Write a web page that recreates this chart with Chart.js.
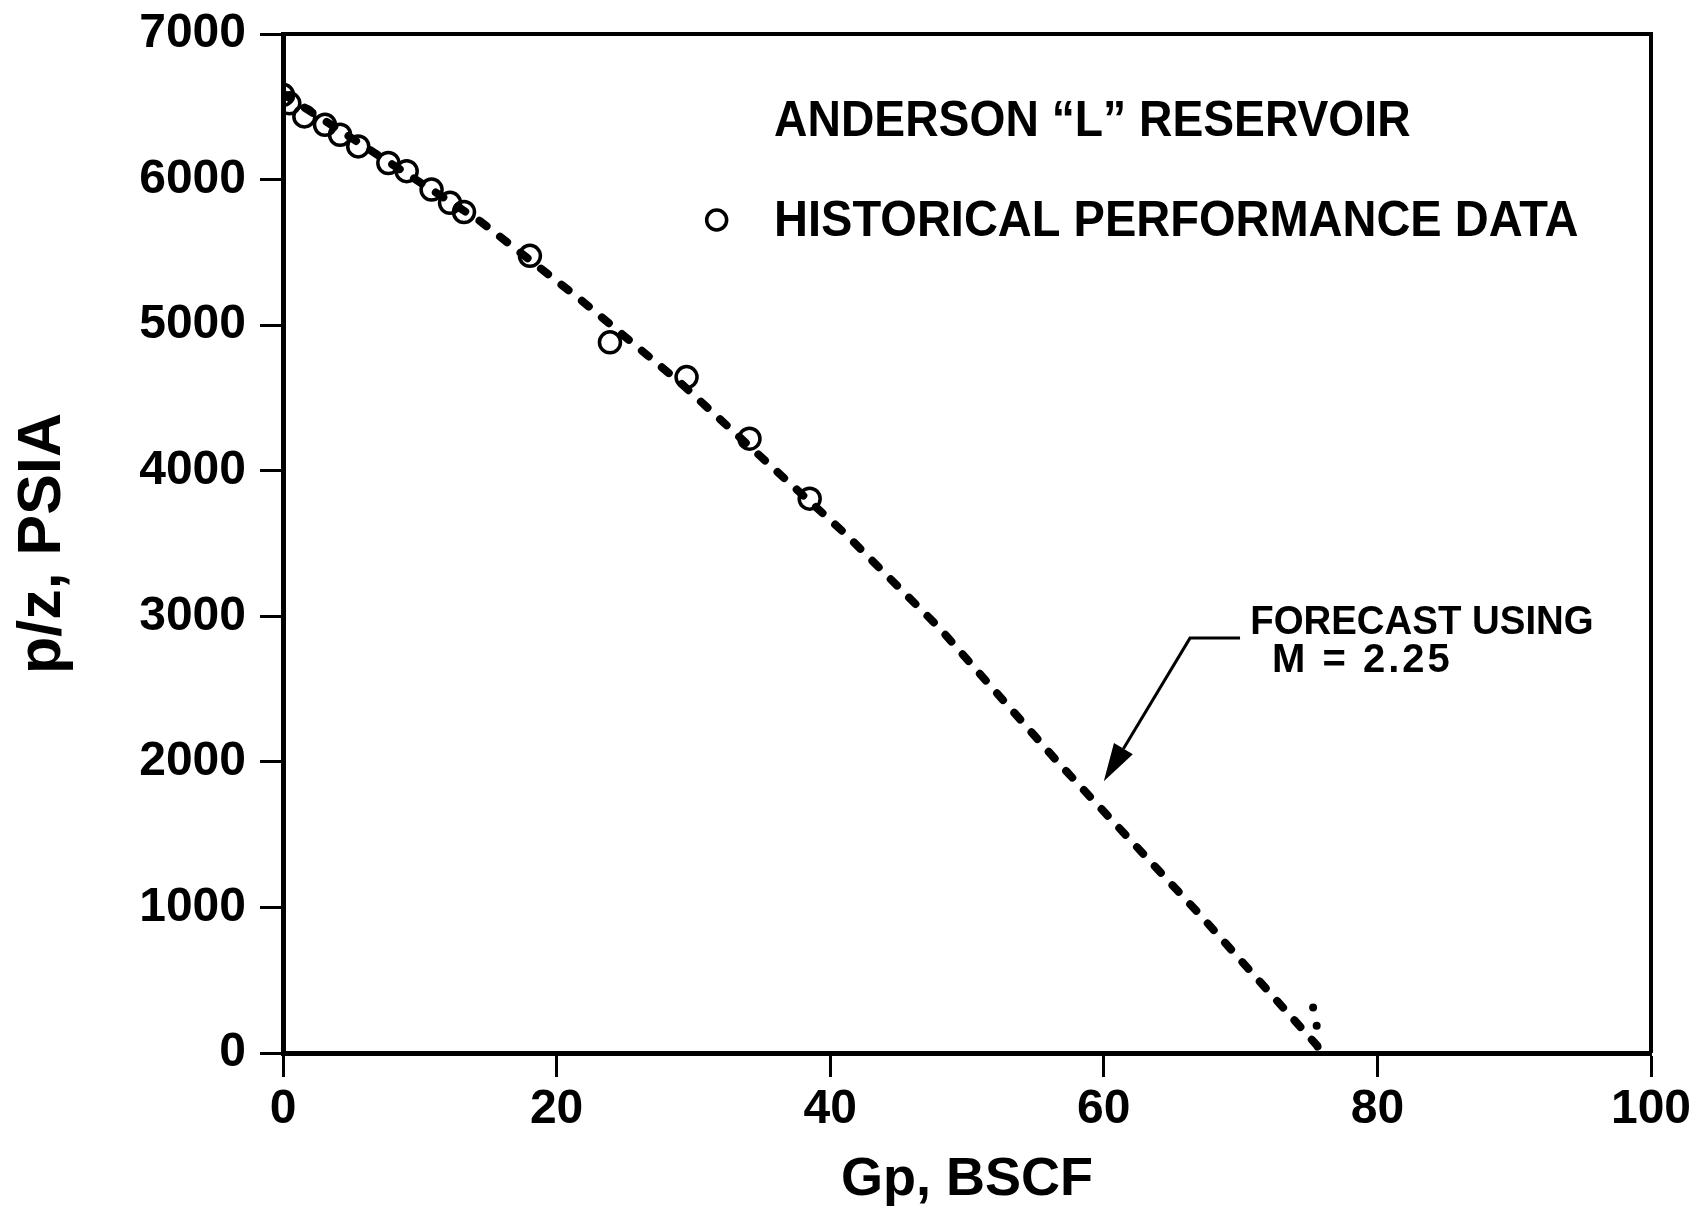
<!DOCTYPE html>
<html>
<head>
<meta charset="utf-8">
<script src="https://cdn.jsdelivr.net/npm/chart.js@4.4.1/dist/chart.umd.min.js"></script>
<style>
html, body { margin: 0; padding: 0; background: #fff; }
</style>
</head>
<body>
<canvas id="mycanvas" width="1700" height="1214"></canvas>
<script>
// historical p/z data
var gp = [0, 0.46, 1.56, 3.07, 4.17, 5.5, 7.7, 9.04, 10.86, 12.21, 13.23, 18.05, 23.9, 29.5, 34.1, 38.5];
var pz = [6582, 6524, 6434, 6376, 6308, 6228, 6114, 6058, 5931, 5840, 5777, 5476, 4882, 4643, 4220, 3808];

// forecast curve (M = 2.25), traced along the dashes
var forecastGp = [0, 14.4, 21.7, 29.0, 36.8, 41.2, 48.0, 56.7, 67.0, 75.6, 75.8];
var forecastPz = [6590, 5715, 5179, 4608, 3935, 3558, 2918, 1992, 953, 50, 0];

// little hand-drawn dots at the end of the forecast
var tailGp = [75.3, 75.56];
var tailPz = [313, 188];

var xTicks = [0, 20, 40, 60, 80, 100];
var yTicks = [0, 1000, 2000, 3000, 4000, 5000, 6000, 7000];

var FONT = '"Liberation Sans", Arial, sans-serif';

function pts(xs, ys) {
	var out = [];
	for (var i in xs) {
		out.push({x: xs[i], y: ys[i]});
	}
	return out;
}

var frame = {
	id: 'frame',
	afterDraw: function(chart) {
		var a = chart.chartArea;
		var c = chart.ctx;
		c.save();
		c.strokeStyle = '#000';
		c.lineWidth = 4;
		c.beginPath();
		c.moveTo(a.left, a.top);
		c.lineTo(a.right, a.top);
		c.lineTo(a.right, a.bottom);
		c.stroke();
		c.restore();
	}
};

function squeezedText(c, txt, x, y, sx) {
	c.save();
	c.translate(x, y);
	c.scale(sx, 1);
	c.fillText(txt, 0, 0);
	c.restore();
}

var notes = {
	id: 'notes',
	afterDatasetsDraw: function(chart) {
		var c = chart.ctx;
		var sx = chart.scales.x, sy = chart.scales.y;
		function X(v) { return sx.getPixelForValue(v); }
		function Y(v) { return sy.getPixelForValue(v); }
		c.save();
		c.fillStyle = '#000';
		c.strokeStyle = '#000';
		c.textBaseline = 'alphabetic';
		c.textAlign = 'left';

		c.font = 'bold 50px ' + FONT;
		squeezedText(c, 'ANDERSON \u201CL\u201D RESERVOIR', X(35.9), Y(6300), 0.925);
		squeezedText(c, 'HISTORICAL PERFORMANCE DATA', X(35.9), Y(5610), 0.94);

		// legend marker
		c.lineWidth = 3.5;
		c.beginPath();
		c.arc(X(31.7), Y(5722), 10, 0, Math.PI * 2);
		c.stroke();

		c.font = 'bold 40px ' + FONT;
		squeezedText(c, 'FORECAST USING', X(70.7), Y(2880), 0.96);
		c.letterSpacing = '3px';
		squeezedText(c, 'M = 2.25', X(72.3), Y(2619), 1.0);
		c.letterSpacing = '0px';

		// leader + arrow
		var ex = X(66.3), ey = Y(2850);
		var tx = X(60.0), ty = Y(1867);
		var dx = tx - ex, dy = ty - ey;
		var len = Math.sqrt(dx * dx + dy * dy);
		var ux = dx / len, uy = dy / len;
		var hl = 38, hw = 11;
		var bx = tx - ux * hl, by = ty - uy * hl;
		c.lineWidth = 3;
		c.beginPath();
		c.moveTo(X(69.96), ey);
		c.lineTo(ex, ey);
		c.lineTo(bx, by);
		c.stroke();
		c.beginPath();
		c.moveTo(tx, ty);
		c.lineTo(bx - uy * hw, by + ux * hw);
		c.lineTo(bx + uy * hw, by - ux * hw);
		c.closePath();
		c.fill();
		c.restore();
	}
};

var ctx = document.getElementById('mycanvas');

var chart = new Chart(ctx, {
	type: 'scatter',
	data: {
		datasets: [
			{
				label: 'Historical performance data',
				data: pts(gp, pz),
				pointRadius: 10.5,
				pointBorderWidth: 3.5,
				pointBorderColor: '#000',
				pointBackgroundColor: 'rgba(0,0,0,0)',
				showLine: false,
				order: 1
			},
			{
				label: 'Forecast using M = 2.25',
				data: pts(forecastGp, forecastPz),
				showLine: true,
				pointRadius: 0,
				borderColor: '#000',
				borderWidth: 8,
				borderDash: [9, 17],
				borderCapStyle: 'round',
				tension: 0,
				fill: false,
				order: 2
			},
			{
				label: 'tail',
				data: pts(tailGp, tailPz),
				showLine: false,
				pointRadius: 4,
				pointBorderWidth: 0,
				pointBackgroundColor: '#000',
				order: 3
			}
		]
	},
	options: {
		responsive: false,
		animation: false,
		devicePixelRatio: 1,
		layout: {padding: {left: 0, top: 34, right: 49, bottom: 0}},
		plugins: {
			legend: {display: false},
			tooltip: {enabled: false}
		},
		scales: {
			x: {
				type: 'linear',
				min: 0,
				max: 100,
				afterBuildTicks: function(s) { s.ticks = xTicks.map(function(v) { return {value: v}; }); },
				afterFit: function(s) { s.height = 161; s.paddingLeft = 0; s.paddingRight = 0; },
				ticks: {
					color: '#000',
					font: {family: FONT, size: 48, weight: 'bold'},
					padding: 4,
					maxRotation: 0,
					callback: function(v) { return String(v); }
				},
				grid: {
					drawOnChartArea: false,
					drawTicks: true,
					tickLength: 24,
					tickWidth: 3,
					tickColor: '#000'
				},
				border: {display: true, width: 5, color: '#000'},
				title: {
					display: true,
					text: 'Gp, BSCF',
					color: '#000',
					font: {family: FONT, size: 54, weight: 'bold'},
					padding: {top: 0, bottom: 1}
				}
			},
			y: {
				type: 'linear',
				min: 0,
				max: 7000,
				afterBuildTicks: function(s) { s.ticks = yTicks.map(function(v) { return {value: v}; }); },
				afterFit: function(s) { s.width = 283; s.paddingTop = 0; s.paddingBottom = 0; },
				ticks: {
					color: '#000',
					font: {family: FONT, size: 48, weight: 'bold'},
					padding: 14,
					callback: function(v) { return String(v); }
				},
				grid: {
					drawOnChartArea: false,
					drawTicks: true,
					tickLength: 23,
					tickWidth: 3,
					tickColor: '#000'
				},
				border: {display: true, width: 5, color: '#000'},
				title: {
					display: true,
					text: 'p/z, PSIA',
					color: '#000',
					font: {family: FONT, size: 61, weight: 'bold'},
					padding: {top: 7, bottom: 0}
				}
			}
		}
	},
	plugins: [frame, notes]
});
</script>
</body>
</html>
